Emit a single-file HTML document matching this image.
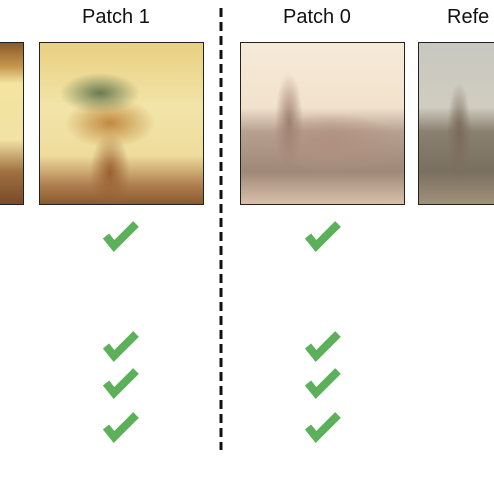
<!DOCTYPE html>
<html><head><style>
body{margin:0;width:494px;height:494px;background:#fff;position:relative;overflow:hidden;font-family:"Liberation Sans",sans-serif}
.t{position:absolute;top:6px;font-size:20px;color:#111;white-space:nowrap}
.img{position:absolute;top:42px;height:163px;border:1px solid #222;box-sizing:border-box}
</style></head><body>
<div class="t" style="left:82px">Patch 1</div>
<div class="t" style="left:283px">Patch 0</div>
<div class="t" style="left:447px">Refe</div>
<div class="img" style="left:-2px;width:26px;background:linear-gradient(180deg,#8a5a2a 0,#c89850 15%,#f4e4a0 25%,#f2e2a4 60%,#a07040 80%,#7a4a2a 100%)"></div>
<div class="img" style="left:39px;width:165px;background:
radial-gradient(ellipse 40px 20px at 60px 50px,#6a7a50 0,transparent 100%),
radial-gradient(ellipse 45px 25px at 70px 80px,#c08a40 0,transparent 100%),
radial-gradient(ellipse 20px 40px at 70px 130px,#9a6030 0,transparent 100%),
linear-gradient(180deg,#e8d080 0,#f2e4a8 40%,#efdc9c 70%,#b08050 88%,#8a5a30 100%)"></div>
<div class="img" style="left:240px;width:165px;background:
radial-gradient(ellipse 14px 50px at 48px 80px,#a08070 0,transparent 100%),
radial-gradient(ellipse 70px 30px at 90px 100px,#b09080 0,transparent 100%),
linear-gradient(180deg,#f6ead8 0,#f2e2cc 40%,#b8a090 55%,#a08878 80%,#d8c0a8 100%)"></div>
<div class="img" style="left:418px;width:80px;background:
radial-gradient(ellipse 12px 50px at 40px 90px,#7a6a5a 0,transparent 100%),
linear-gradient(180deg,#c8c8c0 0,#d0ccc0 40%,#8a8070 55%,#7a7060 80%,#a09078 100%)"></div>
<svg width="494" height="494" style="position:absolute;left:0;top:0">
<line x1="221" y1="8" x2="221" y2="450" stroke="#111" stroke-width="3" stroke-dasharray="9,5"/>
<g fill="none" stroke="#5cb05a" stroke-width="8" stroke-linejoin="miter">
<polyline points="106,236 114,246 136,224"/>
<polyline points="308,236 316,246 338,224"/>
<polyline points="106,346 114,356 136,334"/>
<polyline points="308,346 316,356 338,334"/>
<polyline points="106,383 114,393 136,371"/>
<polyline points="308,383 316,393 338,371"/>
<polyline points="106,427 114,437 136,415"/>
<polyline points="308,427 316,437 338,415"/>
</g>
</svg>
</body></html>
